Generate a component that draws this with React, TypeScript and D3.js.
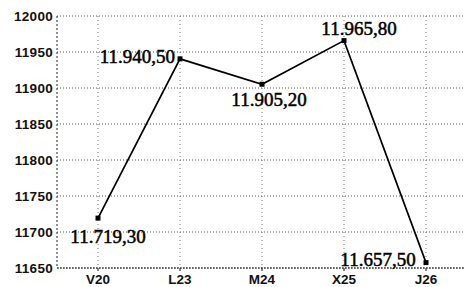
import React from "react";
import * as d3 from "d3";

const categories = ["V20", "L23", "M24", "X25", "J26"];
const values = [11719.3, 11940.5, 11905.2, 11965.8, 11657.5];
const valueLabels = ["11.719,30", "11.940,50", "11.905,20", "11.965,80", "11.657,50"];
const yTicks = [11650, 11700, 11750, 11800, 11850, 11900, 11950, 12000];
// label offsets (dx, dy, anchor) per point
const labelPlacement: [number, number, string][] = [
  [10, 25, "middle"],
  [-5, 4, "end"],
  [7, 22, "middle"],
  [15, -6, "middle"],
  [-48, 3, "middle"],
];

export default function App() {
  const W = 465, H = 287;
  const left = 57, right = 467, top = 16, bottom = 268;
  const x = d3.scalePoint<string>().domain(categories).range([left, right]).padding(0.5);
  const y = d3.scaleLinear().domain([11650, 12000]).range([bottom, top]);
  const line = d3.line<number>().x((_, i) => x(categories[i])!).y((d) => y(d));
  return (
    <svg width={W} height={H} style={{ position: "absolute", left: 0, top: 0, background: "#fff" }}>
      {yTicks.map((t) => (
        <g key={t}>
          <line x1={left} x2={W} y1={y(t)} y2={y(t)} stroke="#555" strokeWidth={1} strokeDasharray="1,2" />
          <text x={left - 4} y={y(t) + 4.5} textAnchor="end" fontFamily="Liberation Sans, Arial" fontSize={13.5} fontWeight="bold" fill="#111" letterSpacing={0.3}>{t}</text>
        </g>
      ))}
      {categories.map((c) => (
        <g key={c}>
          <line x1={x(c)} x2={x(c)} y1={top} y2={bottom} stroke="#777" strokeWidth={1} strokeDasharray="1,3" />
          <line x1={x(c)} x2={x(c)} y1={bottom} y2={bottom + 3} stroke="#111" strokeWidth={1} />
          <text x={x(c)} y={bottom + 16} textAnchor="middle" fontFamily="Liberation Sans, Arial" fontSize={13.5} fontWeight="bold" fill="#111">{c}</text>
        </g>
      ))}
      <line x1={left} x2={left} y1={top} y2={bottom} stroke="#222" strokeWidth={1} strokeDasharray="2,2" />
      <line x1={left} x2={W} y1={bottom} y2={bottom} stroke="#222" strokeWidth={1} strokeDasharray="2,1" />
      <path d={line(values) || ""} fill="none" stroke="#000" strokeWidth={1.7} />
      {values.map((v, i) => (
        <rect key={i} x={x(categories[i])! - 2.5} y={y(v) - 2.5} width={5} height={5} fill="#000" />
      ))}
      {values.map((v, i) => {
        const [dx, dy, anchor] = labelPlacement[i];
        return (
          <text key={"l" + i} x={x(categories[i])! + dx} y={y(v) + dy} textAnchor={anchor as any}
            fontFamily="Liberation Serif, Times New Roman" fontSize={19} fill="#000" stroke="#000" strokeWidth={0.5}>{valueLabels[i]}</text>
        );
      })}
    </svg>
  );
}
